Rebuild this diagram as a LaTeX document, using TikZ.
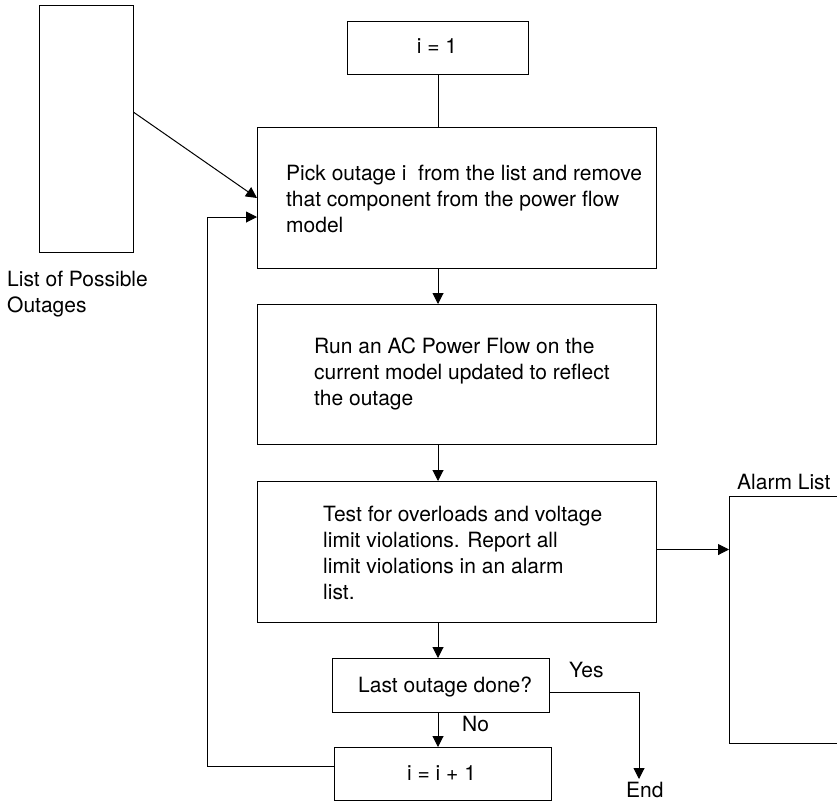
\documentclass[tikz,border=0pt]{standalone}
\usepackage{fontspec}
\setmainfont{TeX Gyre Heros}
\usetikzlibrary{arrows.meta}
\begin{document}
\begin{tikzpicture}[x=1pt,y=-1pt,
  box/.style={draw, line width=1pt, inner sep=0pt, anchor=north west},
  txt/.style={anchor=base west, inner sep=0pt, align=left, font=\fontsize{21}{26}\selectfont},
  arr/.style={-{Triangle[length=11pt,width=11pt]}, line width=1pt},
  ln/.style={line width=1pt}]
\useasboundingbox (0,0) rectangle (837,801);
% boxes
\node[box, minimum width=94pt, minimum height=247pt] (list) at (39,5) {};
\node[box, minimum width=181pt, minimum height=53pt] (i1) at (347,21) {};
\node[box, minimum width=399pt, minimum height=141pt] (pick) at (257,127) {};
\node[box, minimum width=399pt, minimum height=140pt] (run) at (257,304) {};
\node[box, minimum width=399pt, minimum height=141pt] (test) at (257,481) {};
\node[box, minimum width=217pt, minimum height=54pt] (last) at (332,658) {};
\node[box, minimum width=217pt, minimum height=53pt] (inc) at (334,747) {};
\node[box, minimum width=130pt, minimum height=247pt] (alarm) at (729,496) {};
% texts (multi-line nodes: base = baseline of last line)
\node[txt] (listtxt) at (7,312) {List of Possible\\Outages};
\node[txt, anchor=base] (i1txt) at (437,53) {i = 1};
\node[txt] (picktxt) at (286,232) {Pick outage i\ \ from the list and remove\\that component from the power flow\\model};
\node[txt] (runtxt) at (314,405) {Run an AC Power Flow on the\\current model updated to reflect\\the outage};
\node[txt] (testtxt) at (323,599) {Test for overloads and voltage\\limit violations. Report all\\limit violations in an alarm\\list.};
\node[txt] (lasttxt) at (358,692) {Last outage done?};
\node[txt, anchor=base] (inctxt) at (441.5,780) {i = i + 1};
\node[txt] (alarmtxt) at (737,489) {Alarm List};
\node[txt] (yes) at (569,677) {Yes};
\node[txt] (no) at (462,731) {No};
\node[txt] (endtxt) at (626,797) {End};
% connectors
\draw[ln] (i1.south) -- (pick.north -| i1.south);
\draw[arr] ([yshift=16.5pt]list.east) -- (pick.west);
\draw[arr] (pick.south -| i1.south) -- (run.north -| i1.south);
\draw[arr] (run.south -| i1.south) -- (test.north -| i1.south);
\draw[arr] (test.south -| i1.south) -- (last.north -| i1.south);
\draw[arr] (last.south -| i1.south) -- (inc.north -| i1.south);
\coordinate (ta) at ([yshift=2.5pt]test.east);
\draw[arr] (ta) -- (ta -| alarm.west);
\coordinate (endtip) at (639,779);
\draw[arr] ([yshift=-7pt]last.east) -| (endtip);
\coordinate (loopc) at (207,217);
\draw[arr] ([yshift=7.5pt]inc.west) -| (loopc) -- (loopc -| pick.west);
\end{tikzpicture}
\end{document}
